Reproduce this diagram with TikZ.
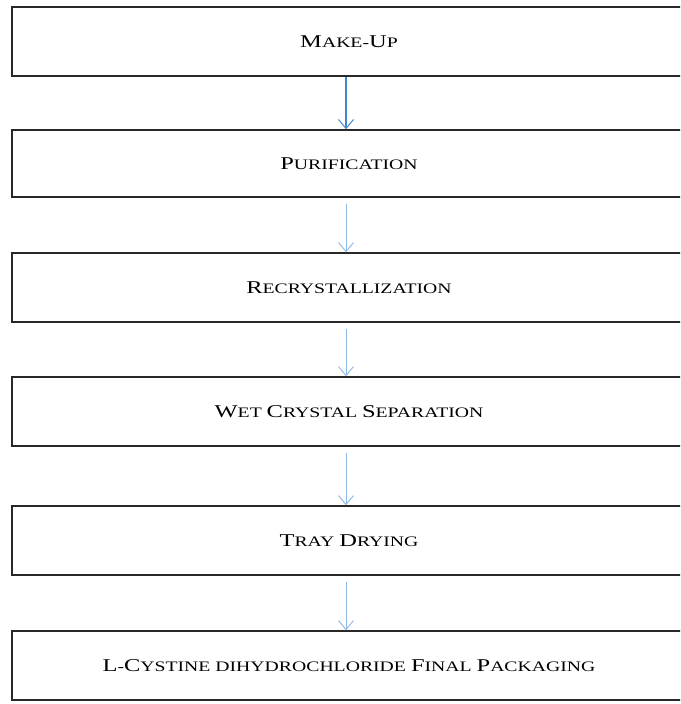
\documentclass[tikz,border=0pt]{standalone}
\usepackage{fontspec}
\setmainfont[FakeStretch=1.36]{Liberation Serif}
\usetikzlibrary{arrows.meta}
\definecolor{arrdark}{RGB}{66,136,208}
\definecolor{arrlight}{RGB}{140,184,228}
\definecolor{boxline}{RGB}{40,40,40}
\newcommand\Cp[1]{{\fontsize{18}{20}\selectfont #1}}
\tikzset{
  stepbox/.style={draw=boxline, line width=1.5pt, rectangle, minimum width=674pt,
    inner sep=0pt, font=\fontsize{14.5}{16}\selectfont, text=black},
  arrA/.style={draw=arrdark, line width=1.1pt, -{Straight Barb[length=9pt,width=15pt,line width=1pt]}},
  arrB/.style={draw=arrlight, line width=0.8pt, -{Straight Barb[length=9pt,width=15pt,line width=0.9pt]}}
}
\begin{document}
\begin{tikzpicture}[x=1pt,y=-1pt]
\useasboundingbox (0,0) rectangle (680,704);
\clip (0,0) rectangle (680,704);
\fill[white] (0,0) rectangle (680,704);
\node[stepbox, minimum height=69pt] (b1) at (349,41.5) {\Cp{M}AKE-\Cp{U}P};
\node[stepbox, minimum height=67pt] (b2) at (349,163.5) {\Cp{P}URIFICATION};
\node[stepbox, minimum height=69pt] (b3) at (349,287.5) {\Cp{R}ECRYSTALLIZATION};
\node[stepbox, minimum height=69pt] (b4) at (349,411.5) {\Cp{W}ET \Cp{C}RYSTAL \Cp{S}EPARATION};
\node[stepbox, minimum height=69pt] (b5) at (349,540.5) {\Cp{T}RAY \Cp{D}RYING};
\node[stepbox, minimum height=69pt] (b6) at (349,665.5) {\Cp{L}-\Cp{C}YSTINE DIHYDROCHLORIDE \Cp{F}INAL \Cp{P}ACKAGING};
\draw[arrA] ([xshift=-3pt]b1.south) -- ([xshift=-3pt]b2.north);
\draw[arrB] ([xshift=-3pt,yshift=-6pt]b2.south) -- ([xshift=-3pt]b3.north);
\draw[arrB] ([xshift=-3pt,yshift=-6pt]b3.south) -- ([xshift=-3pt]b4.north);
\draw[arrB] ([xshift=-3pt,yshift=-6pt]b4.south) -- ([xshift=-3pt]b5.north);
\draw[arrB] ([xshift=-3pt,yshift=-6pt]b5.south) -- ([xshift=-3pt]b6.north);
\end{tikzpicture}
\end{document}
